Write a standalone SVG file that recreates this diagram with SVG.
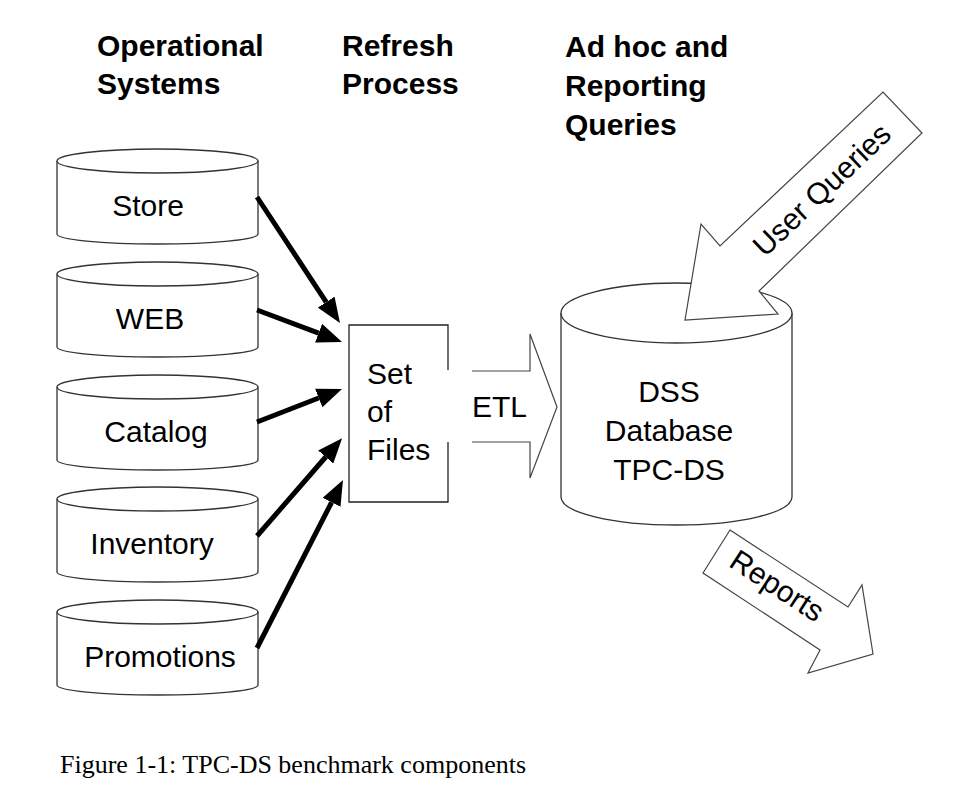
<svg xmlns="http://www.w3.org/2000/svg" width="966" height="804" viewBox="0 0 966 804">
<style>
.hdr{font-family:"Liberation Sans",Arial,sans-serif;font-weight:bold;font-size:30px;fill:#000}
.lbl{font-family:"Liberation Sans",Arial,sans-serif;font-size:30px;fill:#000}
.cap{font-family:"Liberation Serif","Times New Roman",serif;font-size:26px;fill:#000}
.cyl{fill:#fff;stroke:#333;stroke-width:1.3}
.box{fill:none;stroke:#222;stroke-width:1.3}
.big{fill:#fff;stroke:#444;stroke-width:1.2}
.conn{stroke:#000;stroke-width:5;fill:none}
</style>
<defs>
<marker id="ah" viewBox="0 0 25 20" markerWidth="25" markerHeight="20" refX="0" refY="10" orient="auto" markerUnits="userSpaceOnUse">
<path d="M0,0 L25,10 L0,20 z" fill="#000"/>
</marker>
</defs>
<rect width="966" height="804" fill="#fff"/>

<g id="headers">
<text class="hdr" x="97" y="56">Operational</text>
<text class="hdr" x="97" y="94">Systems</text>
<text class="hdr" x="342" y="56">Refresh</text>
<text class="hdr" x="342" y="94">Process</text>
<text class="hdr" x="565" y="57">Ad hoc and</text>
<text class="hdr" x="565" y="96">Reporting</text>
<text class="hdr" x="565" y="135">Queries</text>
</g>

<g id="store">
<path class="cyl" d="M57,161 L57,234 A100.5,10 0 0 0 258,234 L258,161"/>
<ellipse class="cyl" cx="157.5" cy="161" rx="100.5" ry="12"/>
<text class="lbl" x="148" y="216" text-anchor="middle">Store</text>
</g>
<g id="web">
<path class="cyl" d="M57,274 L57,347 A100.5,10 0 0 0 258,347 L258,274"/>
<ellipse class="cyl" cx="157.5" cy="274" rx="100.5" ry="12"/>
<text class="lbl" x="150" y="329" text-anchor="middle">WEB</text>
</g>
<g id="catalog">
<path class="cyl" d="M57,387 L57,460 A100.5,10 0 0 0 258,460 L258,387"/>
<ellipse class="cyl" cx="157.5" cy="387" rx="100.5" ry="12"/>
<text class="lbl" x="156" y="442" text-anchor="middle">Catalog</text>
</g>
<g id="inventory">
<path class="cyl" d="M57,499 L57,572 A100.5,10 0 0 0 258,572 L258,499"/>
<ellipse class="cyl" cx="157.5" cy="499" rx="100.5" ry="12"/>
<text class="lbl" x="152" y="554" text-anchor="middle">Inventory</text>
</g>
<g id="promotions">
<path class="cyl" d="M57,612 L57,685 A100.5,10 0 0 0 258,685 L258,612"/>
<ellipse class="cyl" cx="157.5" cy="612" rx="100.5" ry="12"/>
<text class="lbl" x="160" y="667" text-anchor="middle">Promotions</text>
</g>

<g id="set-of-files">
<path class="box" d="M448,370 L448,325 L349,325 L349,502 L448,502 L448,442"/>
<text class="lbl" x="367" y="384">Set</text>
<text class="lbl" x="367" y="422">of</text>
<text class="lbl" x="367" y="460">Files</text>
</g>

<g id="dss">
<path class="cyl" d="M561,313 L561,497 A115.5,28 0 0 0 792,497 L792,313"/>
<ellipse class="cyl" cx="676.5" cy="313" rx="115.5" ry="30"/>
<text class="lbl" x="669" y="402" text-anchor="middle">DSS</text>
<text class="lbl" x="669" y="441" text-anchor="middle">Database</text>
<text class="lbl" x="669" y="480" text-anchor="middle">TPC-DS</text>
</g>

<g id="connectors">
<line class="conn" x1="257" y1="197" x2="326.2" y2="302.1" marker-end="url(#ah)"/>
<line class="conn" x1="257" y1="310" x2="318.6" y2="333.2" marker-end="url(#ah)"/>
<line class="conn" x1="257" y1="422" x2="318.7" y2="398.0" marker-end="url(#ah)"/>
<line class="conn" x1="257" y1="536" x2="325.7" y2="457.0" marker-end="url(#ah)"/>
<line class="conn" x1="257" y1="648" x2="331.6" y2="502.3" marker-end="url(#ah)"/>
</g>

<g id="etl">
<path d="M472,371 L530,371 L530,334 L557,407 L530,478 L530,442 L472,442" fill="#fff" stroke="#444" stroke-width="1.2"/>
<text class="lbl" x="472" y="417">ETL</text>
</g>

<g id="user-queries">
<polygon class="big" points="685,320 701,224 720,246 883,92 922,133 759,291 778,314"/>
<text class="lbl" text-anchor="middle" transform="translate(822,190) rotate(-43.5)" y="10">User Queries</text>
</g>

<g id="reports">
<polygon class="big" points="730,530 848,607 862,585 873,654 808,673 820,650 703,573"/>
<text class="lbl" text-anchor="middle" transform="translate(777,586) rotate(33)" y="10">Reports</text>
</g>

<text class="cap" x="60" y="773">Figure 1-1: TPC-DS benchmark components</text>
</svg>
